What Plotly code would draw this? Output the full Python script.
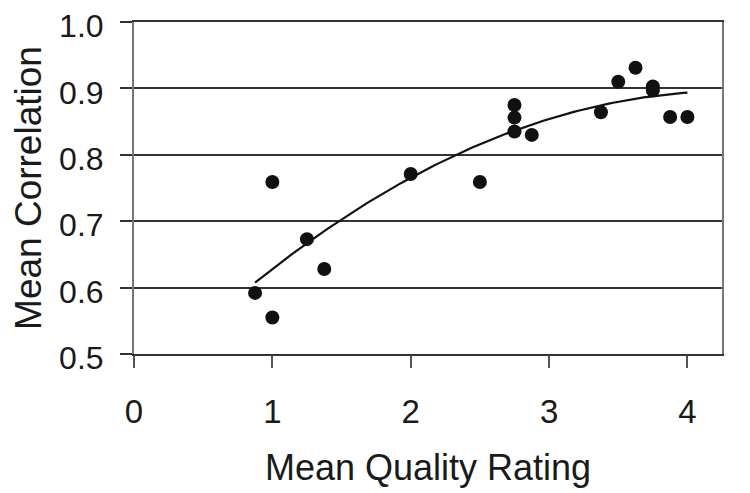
import numpy as np
import plotly.graph_objects as go

# Data
quality = [0.875, 1.0, 1.25, 1.375, 1.0, 2.0, 2.5, 2.75, 2.75, 2.75, 2.875,
           3.375, 3.5, 3.625, 3.75, 3.75, 3.875, 4.0]
correlation = [0.592, 0.555, 0.673, 0.628, 0.759, 0.771, 0.759, 0.875, 0.856, 0.835, 0.830,
               0.864, 0.910, 0.931, 0.903, 0.897, 0.857, 0.857]

x_ticks = [0, 1, 2, 3, 4]
y_ticks = [0.5, 0.6, 0.7, 0.8, 0.9, 1.0]
y_tick_labels = ["0.5", "0.6", "0.7", "0.8", "0.9", "1.0"]

# Polynomial (order 2) trendline from the data
coef = np.polyfit(quality, correlation, 2)
xf = np.linspace(min(quality), max(quality), 100)
yf = np.polyval(coef, xf)

FONT = "Arial, Liberation Sans, sans-serif"

fig = go.Figure()
fig.add_trace(go.Scatter(x=xf, y=yf, mode="lines",
                         line=dict(color="#111111", width=2.2), hoverinfo="skip"))
fig.add_trace(go.Scatter(x=quality, y=correlation, mode="markers",
                         marker=dict(color="#111111", size=14)))

# page body has an 8px margin, so the figure is sized/shifted to compensate
fig.update_layout(
    width=742, height=485,
    margin=dict(l=126, r=28, t=14, b=139),
    paper_bgcolor="white", plot_bgcolor="white",
    showlegend=False,
    font=dict(family=FONT, color="#1a1a1a"),
)
fig.update_xaxes(
    range=[0, 4.25], tickvals=x_ticks, ticktext=[str(v) for v in x_ticks],
    showgrid=False, zeroline=False, automargin=False,
    showline=True, linecolor="#333333", linewidth=2, mirror=True,
    ticks="outside", ticklen=12, tickcolor="#555555", tickwidth=1.5,
    tickfont=dict(size=33, family=FONT), ticklabelstandoff=15,
    title=dict(text="Mean Quality Rating", font=dict(size=36, family=FONT), standoff=26),
)
fig.update_yaxes(
    range=[0.5, 1.0], tickvals=y_ticks, ticktext=y_tick_labels,
    showgrid=True, gridcolor="#333333", gridwidth=1.5, zeroline=False, automargin=False,
    showline=True, linecolor="#777777", linewidth=2, mirror=True,
    ticks="outside", ticklen=12, tickcolor="#333333", tickwidth=1.5,
    tickfont=dict(size=32, family=FONT), ticklabelstandoff=10, ticklabelshift=4,
    ticklabeloverflow="allow",
    title=dict(text="Mean Correlation", font=dict(size=37, family=FONT), standoff=9),
)

fig.write_html("out.html")
